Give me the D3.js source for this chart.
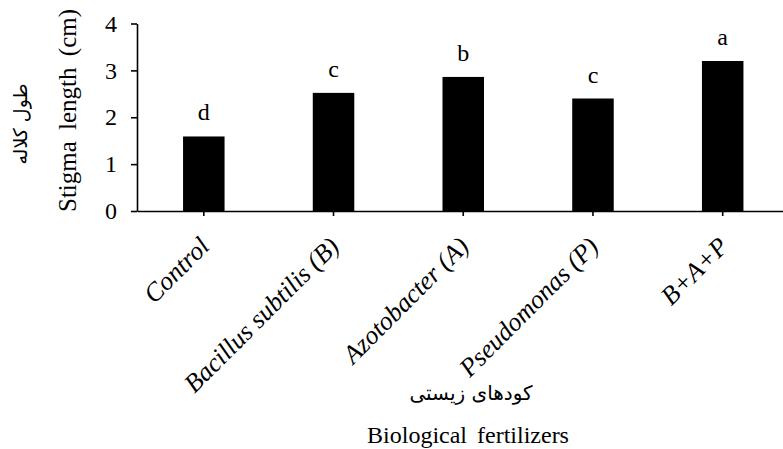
<html>
<head>
  <script src="https://d3js.org/d3.v7.min.js"></script>
  <style>
    body { margin: 0; background: #fff; }
    text { font-family: "Liberation Serif", "Times New Roman", serif; fill: #000; }
    .fa { font-family: "DejaVu Sans", sans-serif; }
    .axis path, .axis line { stroke: #000; stroke-width: 1.6px; }
  </style>
</head>
<body>
  <svg id="chart" width="783" height="449"></svg>
  <script>
    // data
    const categories = ["Control", "Bacillus subtilis (B)", "Azotobacter (A)", "Pseudomonas (P)", "B+A+P"];
    const stigmaLength = [1.59, 2.52, 2.86, 2.40, 3.20];
    const groupLetters = ["d", "c", "b", "c", "a"];
    const yTicks = [0, 1, 2, 3, 4];

    const svg = d3.select("svg#chart");

    const xScale = d3.scaleBand()
      .domain(categories)
      .range([137, 789.5])
      .paddingInner(0.68)
      .paddingOuter(0.355);

    const yScale = d3.scaleLinear()
      .domain([0, 4])
      .range([211, 23.5]);

    // y axis
    let leftAxis = d3.axisLeft(yScale)
      .tickValues(yTicks)
      .tickSize(6)
      .tickSizeOuter(0)
      .tickPadding(14)
      .tickFormat(d3.format("d"));
    let yAxisG = svg.append("g")
      .attr("class", "axis")
      .attr("transform", "translate(137,0)")
      .call(leftAxis);
    yAxisG.selectAll("text")
      .attr("font-size", "24px")
      .attr("font-family", "Liberation Serif");

    // bars
    svg.append("g").selectAll("rect")
      .data(categories)
      .join("rect")
      .attr("x", d => xScale(d))
      .attr("width", xScale.bandwidth())
      .attr("y", (d, i) => yScale(stigmaLength[i]))
      .attr("height", (d, i) => yScale(0) - yScale(stigmaLength[i]))
      .attr("fill", "#000");

    // x axis
    let bottomAxis = d3.axisBottom(xScale)
      .tickSize(5)
      .tickSizeOuter(0)
      .tickFormat("");
    svg.append("g")
      .attr("class", "axis")
      .attr("transform", "translate(0,211)")
      .call(bottomAxis);

    // rotated category labels
    svg.append("g").selectAll("text")
      .data(categories)
      .join("text")
      .attr("transform", d => "translate(" + (xScale(d) + xScale.bandwidth() / 2 + 7) + ",248) rotate(-45)")
      .attr("text-anchor", "end")
      .attr("font-size", "26px")
      .attr("font-style", "italic")
      .text(d => d);

    // letters over bars
    svg.append("g").selectAll("text")
      .data(categories)
      .join("text")
      .attr("x", d => xScale(d) + xScale.bandwidth() / 2)
      .attr("y", (d, i) => yScale(stigmaLength[i]) - 16)
      .attr("text-anchor", "middle")
      .attr("font-size", "24px")
      .text((d, i) => groupLetters[i]);

    // axis titles
    svg.append("text")
      .attr("transform", "translate(75.5,110.5) rotate(-90)")
      .attr("text-anchor", "middle")
      .attr("font-size", "25px")
      .attr("word-spacing", "5px")
      .text("Stigma length (cm)");

    svg.append("text")
      .attr("class", "fa")
      .attr("transform", "translate(27,124) rotate(-90)")
      .attr("text-anchor", "middle")
      .attr("font-size", "19px")
      .attr("direction", "rtl")
      .text("طول کلاله");

    svg.append("text")
      .attr("class", "fa")
      .attr("x", 471)
      .attr("y", 400)
      .attr("text-anchor", "middle")
      .attr("font-size", "20px")
      .attr("direction", "rtl")
      .text("کودهای زیستی");

    svg.append("text")
      .attr("x", 468)
      .attr("y", 443)
      .attr("text-anchor", "middle")
      .attr("font-size", "24px")
      .attr("word-spacing", "4px")
      .text("Biological fertilizers");
  </script>
</body>
</html>
